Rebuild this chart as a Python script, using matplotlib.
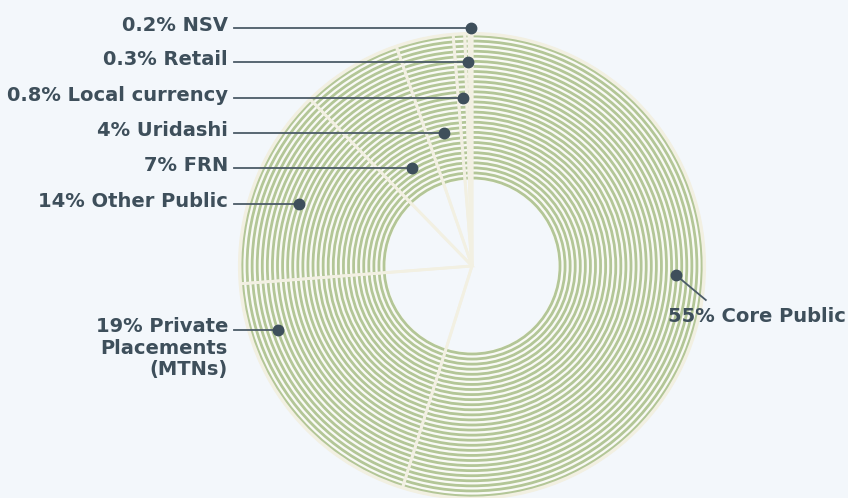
import numpy as np
import matplotlib.pyplot as plt
from matplotlib.patches import Circle

# Data (clockwise from 12 o'clock)
labels = ['55% Core Public', '19% Private\nPlacements\n(MTNs)', '14% Other Public',
          '7% FRN', '4% Uridashi', '0.8% Local currency', '0.3% Retail', '0.2% NSV']
shares = [55, 19, 14, 7, 4, 0.8, 0.3, 0.2]

# Style
bg = '#f3f7fb'
ring_green = '#b3c697'
gap_col = '#f9faf5'
cream = '#f2f0e2'
ink = '#3e4f5b'
line_col = '#4b5b67'
font = dict(fontsize=14, fontweight='bold', family='DejaVu Sans', color=ink)

cx, cy = 472, 232
R, r_in = 232, 86

fig = plt.figure(figsize=(8.48, 4.98), dpi=100, facecolor=bg)
ax = fig.add_axes([0, 0, 1, 1])
ax.set_facecolor(bg)

# base donut (light face between rings)
wedges, _ = ax.pie(shares, radius=R, center=(cx, cy), startangle=90, counterclock=False,
                   wedgeprops=dict(width=R - r_in, facecolor=gap_col, edgecolor='none'))

# concentric green rings
for r in np.linspace(r_in + 2, R - 2, 29):
    ax.add_patch(Circle((cx, cy), r, fill=False, edgecolor=ring_green, lw=2.0, zorder=2))

# outer faint edge + wedge separators running to the centre
ax.add_patch(Circle((cx, cy), R + 1, fill=False, edgecolor=cream, lw=1.5, zorder=2))
ax.pie(shares, radius=R, center=(cx, cy), startangle=90, counterclock=False,
       wedgeprops=dict(facecolor='none', edgecolor=cream, linewidth=2.0, zorder=3))

# label rows (y from bottom, pixels) and dot placement
rows = [223, 168, 294, 330, 365, 400, 436, 470]
text_x = 228
line_x0 = 234

for i, (w, lab, row) in enumerate(zip(wedges, labels, rows)):
    mid = np.deg2rad((w.theta1 + w.theta2) / 2)
    if i == 0:
        # core public: dot on ring, diagonal leader down to label
        r = 204
        dy = row - cy
        dx = np.sqrt(r ** 2 - dy ** 2)
        px, py = cx + dx, row
        ax.plot([px, px + 30], [py, py - 25], color=line_col, lw=1.3, zorder=4)
        ax.plot(px, py, 'o', ms=7.5, color=ink, zorder=5)
        ax.text(668, py - 41, lab, ha='left', va='center', **font)
        continue
    if i == 1:
        r = 204
        dy = row - cy
        px, py = cx - np.sqrt(r ** 2 - dy ** 2), row
        ax.plot([line_x0, px], [py, py], color=line_col, lw=1.3, zorder=4)
        ax.plot(px, py, 'o', ms=7.5, color=ink, zorder=5)
        ax.text(text_x, py + 13, lab, ha='right', va='top', linespacing=1.18, **font)
        continue
    # dot where the wedge's middle ray meets the label row (pulled a bit outward)
    rr = (row - cy) / np.sin(mid)
    if i == 2:
        rr += 10
    px, py = cx + rr * np.cos(mid), row
    ax.plot([line_x0, px], [py, py], color=line_col, lw=1.3, zorder=4)
    ax.plot(px, py, 'o', ms=7.5, color=ink, zorder=5)
    ax.text(text_x, py + 3, lab, ha='right', va='center', **font)

ax.set_xlim(0, 848)
ax.set_ylim(0, 498)
ax.set_aspect('equal')
ax.axis('off')

fig.savefig('out.png', dpi=100, facecolor=bg)
